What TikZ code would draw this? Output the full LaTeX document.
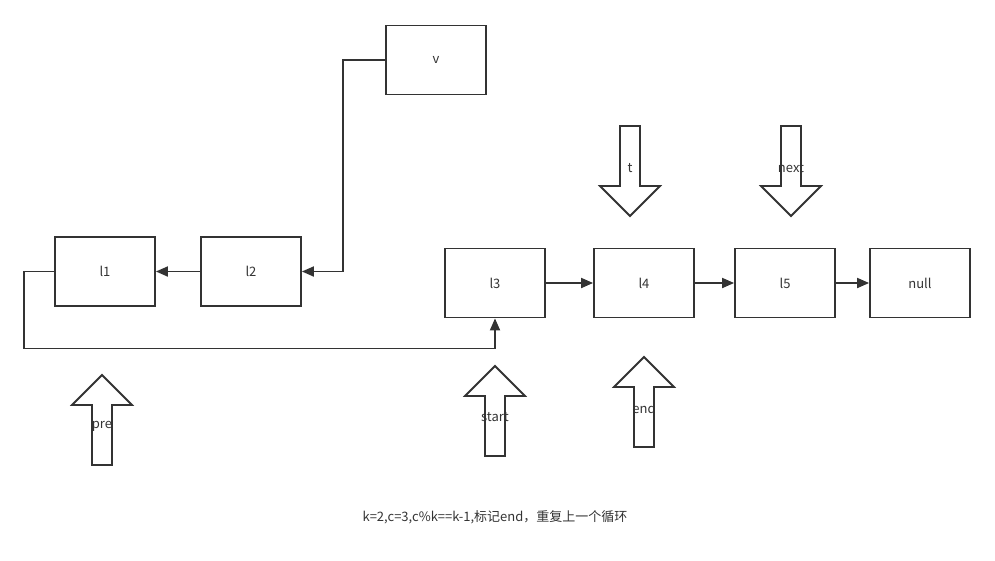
\documentclass[tikz,border=0pt]{standalone}
\usepackage{fontspec}
\setmainfont{Noto Sans CJK SC}
\usetikzlibrary{positioning,arrows.meta}
\definecolor{linegray}{HTML}{333333}

\begin{document}
\begin{tikzpicture}[x=1pt,y=-1pt,
    box/.style={draw=linegray, line width=1.8pt, minimum width=100pt, minimum height=69pt,
                font=\fontsize{13}{15}\selectfont, text=linegray},
    link/.style={draw=linegray, line width=1.8pt, -{Triangle[length=12pt,width=10pt]}},
    fat/.style={draw=linegray, line width=1.8pt, fill=white, line join=miter},
    tag/.style={font=\fontsize{13}{15}\selectfont, text=linegray, inner sep=0pt}
  ]
  \useasboundingbox (0,0) rectangle (995,560);

  % list nodes
  \node[box] (l1) at (105,271.5) {l1};
  \node[box, right=44.2pt of l1] (l2) {l2};
  \node[box] (v) at (436,60) {v};
  \node[box] (l3) at (495,283) {l3};
  \node[box, right=47.2pt of l3] (l4) {l4};
  \node[box, right=39.2pt of l4] (l5) {l5};
  \node[box, right=33.2pt of l5] (null) {null};

  % links
  \draw[link] (v.west) -- ++(-42,0) |- (l2.east);
  \draw[link] (l2) -- (l1);
  \draw[link] (l1.west) -- ++(-30,0) -- ++(0,77) -| (l3.south);
  \draw[link] (l3) -- (l4);
  \draw[link] (l4) -- (l5);
  \draw[link] (l5) -- (null);

  % pointers above (down arrows)
  \coordinate (tTip) at (630,216);
  \draw[fat] (tTip) -- ++(30,-30) -- ++(-20,0) -- ++(0,-60) -- ++(-20,0) -- ++(0,60) -- ++(-20,0) -- cycle;
  \node[tag] (t) at (630,168) {t};
  \coordinate (nextTip) at (791,216);
  \draw[fat] (nextTip) -- ++(30,-30) -- ++(-20,0) -- ++(0,-60) -- ++(-20,0) -- ++(0,60) -- ++(-20,0) -- cycle;
  \node[tag] (next) at (791,168) {next};

  % pointers below (up arrows)
  \coordinate (preTip) at (102,375);
  \draw[fat] (preTip) -- ++(30,30) -- ++(-20,0) -- ++(0,60) -- ++(-20,0) -- ++(0,-60) -- ++(-20,0) -- cycle;
  \node[tag] (pre) at (102,426) {pre};
  \coordinate (startTip) at (495,366);
  \draw[fat] (startTip) -- ++(30,30) -- ++(-20,0) -- ++(0,60) -- ++(-20,0) -- ++(0,-60) -- ++(-20,0) -- cycle;
  \node[tag] (start) at (495,417) {start};
  \coordinate (endTip) at (644,357);
  \draw[fat] (endTip) -- ++(30,30) -- ++(-20,0) -- ++(0,60) -- ++(-20,0) -- ++(0,-60) -- ++(-20,0) -- cycle;
  \node[tag] (end) at (644,408) {end};

  % caption
  \node[tag] (note) at (495,517) {k=2,c=3,c\%k==k-1,标记end，重复上一个循环};
\end{tikzpicture}
\end{document}
